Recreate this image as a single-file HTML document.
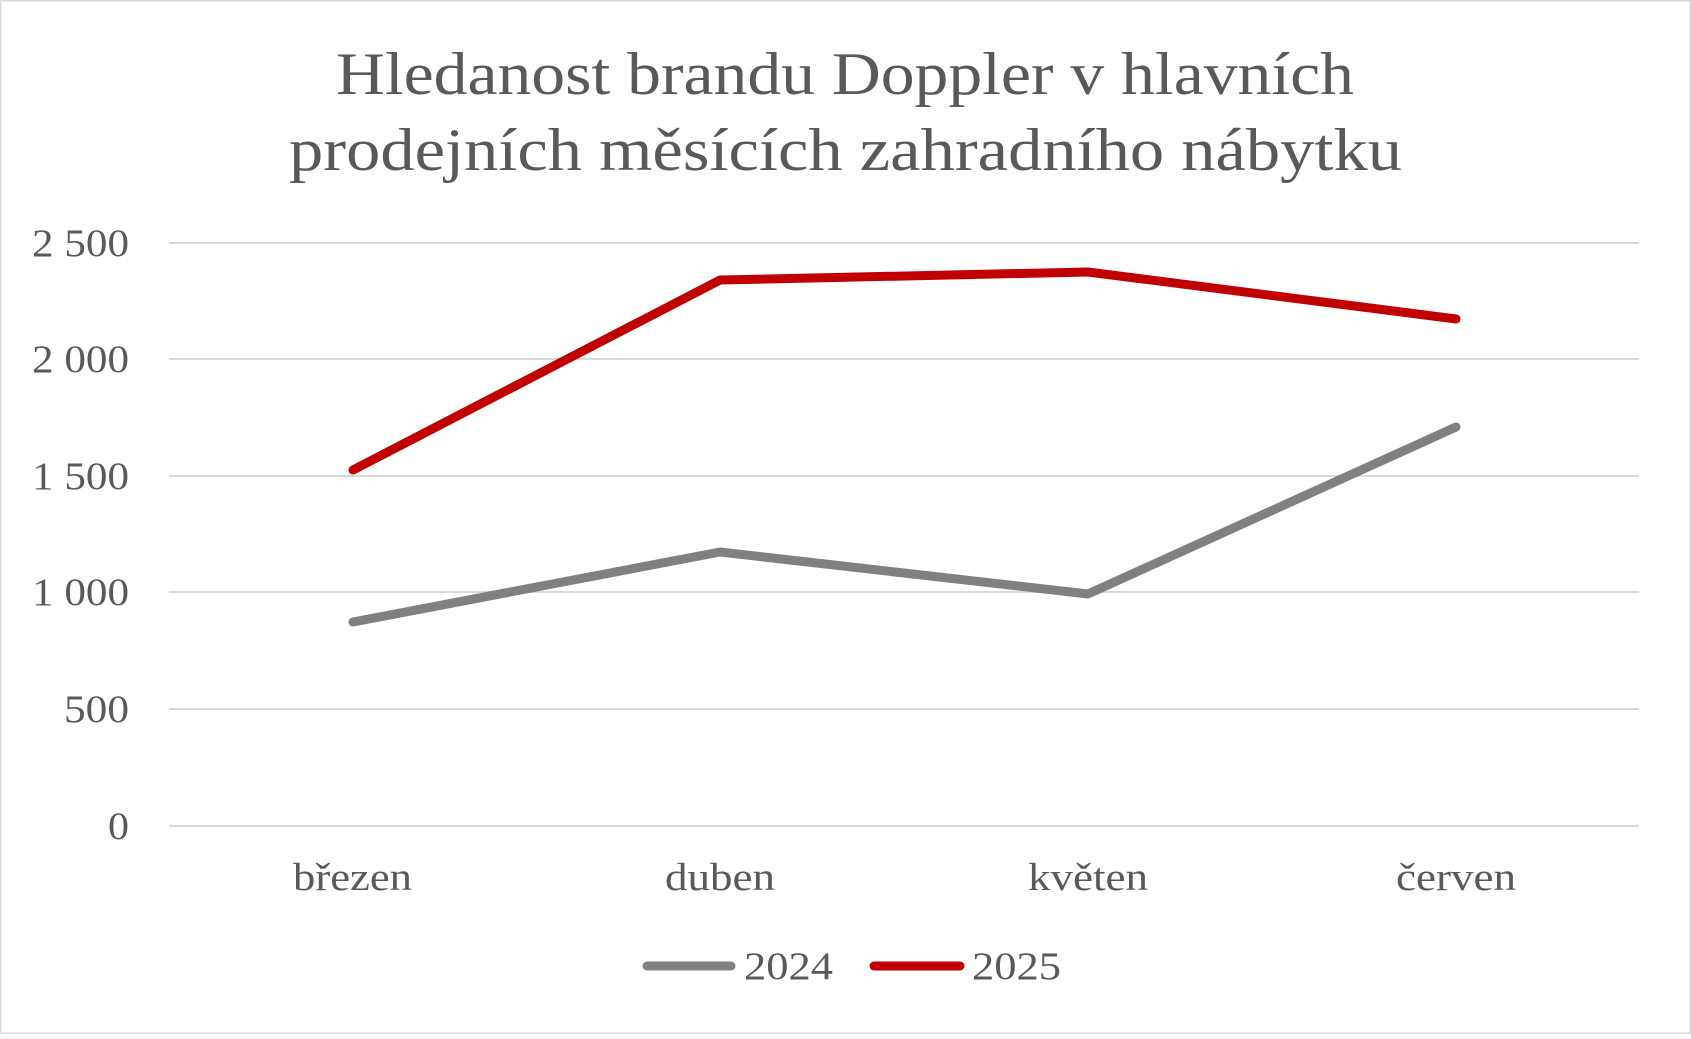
<!DOCTYPE html>
<html><head><meta charset="utf-8"><style>
html,body{margin:0;padding:0;background:#fff}
</style></head><body>
<svg width="1691" height="1034" xmlns="http://www.w3.org/2000/svg" font-family="Liberation Serif, serif">
<rect x="0.5" y="0.5" width="1690" height="1033" fill="#fff" stroke="#d9d9d9" stroke-width="2"/>
<text x="336" y="94" font-size="60" fill="#595959" textLength="1018" lengthAdjust="spacingAndGlyphs">Hledanost brandu Doppler v hlavních</text>
<text x="289" y="170" font-size="60" fill="#595959" textLength="1113" lengthAdjust="spacingAndGlyphs">prodejních měsících zahradního nábytku</text>
<g stroke="#d9d9d9" stroke-width="2">
<line x1="169" y1="243" x2="1639" y2="243"/>
<line x1="169" y1="359" x2="1639" y2="359"/>
<line x1="169" y1="476" x2="1639" y2="476"/>
<line x1="169" y1="592" x2="1639" y2="592"/>
<line x1="169" y1="709" x2="1639" y2="709"/>
<line x1="169" y1="826" x2="1639" y2="826"/>
</g>
<g font-size="39" fill="#595959">
<text x="32" y="256" textLength="97" lengthAdjust="spacingAndGlyphs">2 500</text>
<text x="32" y="372" textLength="97" lengthAdjust="spacingAndGlyphs">2 000</text>
<text x="32" y="489" textLength="97" lengthAdjust="spacingAndGlyphs">1 500</text>
<text x="32" y="605" textLength="97" lengthAdjust="spacingAndGlyphs">1 000</text>
<text x="64" y="722" textLength="65" lengthAdjust="spacingAndGlyphs">500</text>
<text x="108" y="839" textLength="21" lengthAdjust="spacingAndGlyphs">0</text>
</g>
<g font-size="39" fill="#595959">
<text x="293" y="890" textLength="119" lengthAdjust="spacingAndGlyphs">březen</text>
<text x="665" y="890" textLength="110" lengthAdjust="spacingAndGlyphs">duben</text>
<text x="1028" y="890" textLength="120" lengthAdjust="spacingAndGlyphs">květen</text>
<text x="1396" y="890" textLength="120" lengthAdjust="spacingAndGlyphs">červen</text>
</g>
<polyline points="353,622 720,552 1088,594 1456,427" fill="none" stroke="#808080" stroke-width="9" stroke-linecap="round" stroke-linejoin="round"/>
<polyline points="353,470 720,280 1088,272 1456,319" fill="none" stroke="#c00000" stroke-width="9" stroke-linecap="round" stroke-linejoin="round"/>
<line x1="647" y1="966" x2="731" y2="966" stroke="#808080" stroke-width="9" stroke-linecap="round"/>
<text x="744" y="979" font-size="39" fill="#595959" textLength="89" lengthAdjust="spacingAndGlyphs">2024</text>
<line x1="874" y1="966" x2="960" y2="966" stroke="#c00000" stroke-width="9" stroke-linecap="round"/>
<text x="972" y="979" font-size="39" fill="#595959" textLength="89" lengthAdjust="spacingAndGlyphs">2025</text>
</svg>
</body></html>
